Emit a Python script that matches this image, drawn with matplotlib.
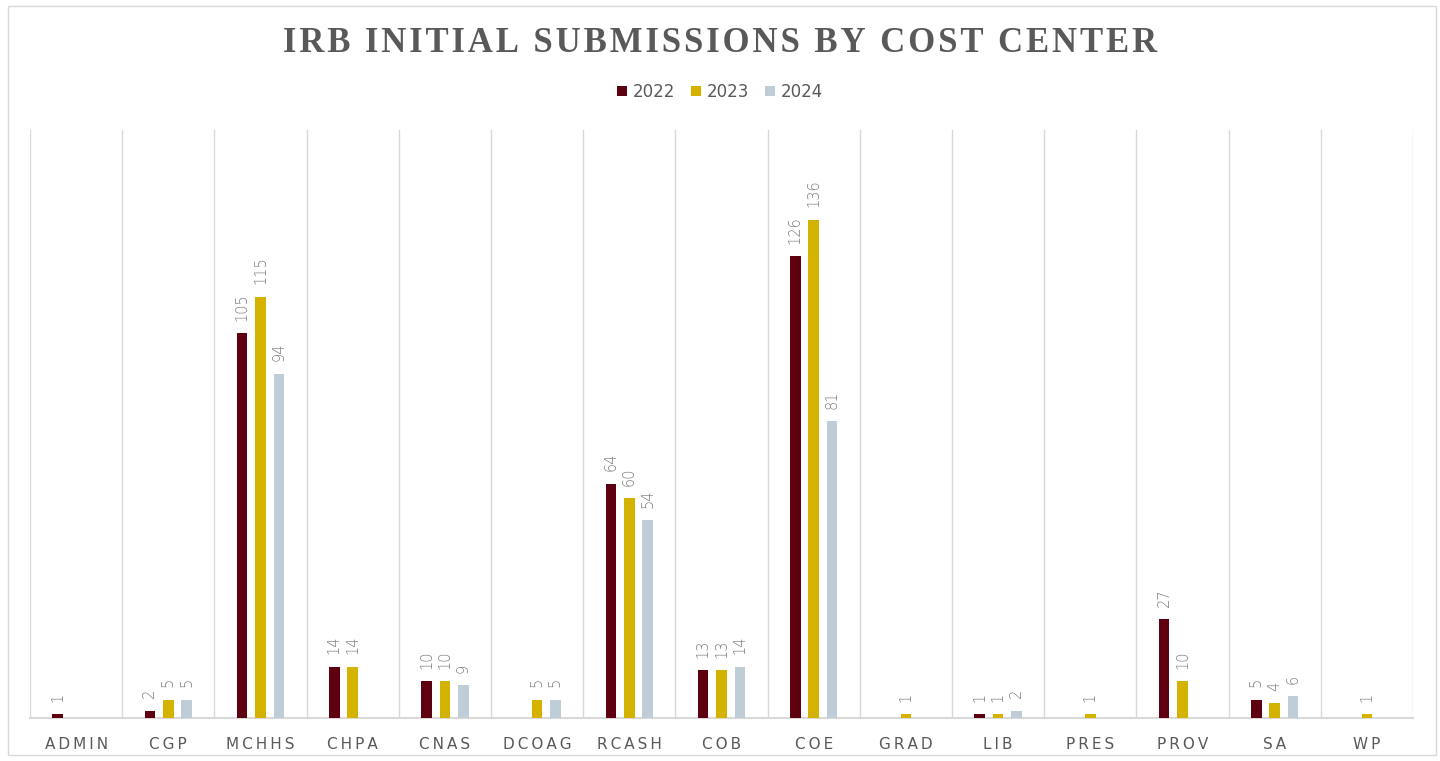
import matplotlib.pyplot as plt
import numpy as np
from matplotlib.patches import Rectangle

centers = ['ADMIN', 'CGP', 'MCHHS', 'CHPA', 'CNAS', 'DCOAG', 'RCASH', 'COB',
           'COE', 'GRAD', 'LIB', 'PRES', 'PROV', 'SA', 'WP']
years = ['2022', '2023', '2024']
# None = no submissions reported (no bar, no label)
v2022 = [1, 2, 105, 14, 10, None, 64, 13, 126, None, 1, None, 27, 5, None]
v2023 = [None, 5, 115, 14, 10, 5, 60, 13, 136, 1, 1, 1, 10, 4, 1]
v2024 = [None, 5, 94, None, 9, 5, 54, 14, 81, None, 2, None, None, 6, None]
colors = ['#5E0010', '#D4B300', '#BFCDD7']
title = 'IRB INITIAL SUBMISSIONS BY COST CENTER'

fig = plt.figure(figsize=(14.4, 7.61), dpi=100)
ax = fig.add_axes([30 / 1440, 43 / 761, 1383 / 1440, 588 / 761])

# light frame around the whole chart
fig.patches.append(Rectangle((8 / 1440, 6 / 761), 1428 / 1440, 749 / 761,
                             transform=fig.transFigure, fill=False,
                             edgecolor='#D9D9D9', linewidth=1))

x = np.arange(len(centers))
w = 0.115
offsets = [-0.2, 0, 0.2]
for vals, yr, col, off in zip([v2022, v2023, v2024], years, colors, offsets):
    xs = [xi + off for xi, v in zip(x, vals) if v is not None]
    hs = [v for v in vals if v is not None]
    bars = ax.bar(xs, hs, width=w, color=col, label=yr, zorder=3)
    for b, h in zip(bars, hs):
        ax.annotate(str(h), (b.get_x() + b.get_width() / 2, h),
                    xytext=(0, 9), textcoords='offset points', rotation=90,
                    ha='center', va='bottom', fontsize=10.5, color='#7F7F7F',
                    family='DejaVu Sans', fontweight='light')

ax.set_xlim(-0.5, len(centers) - 0.5)
ax.set_ylim(0, 160.5)
ax.set_yticks([])
ax.set_xticks(x)
ax.set_xticklabels(['\u2009'.join(c) for c in centers], fontsize=11,
                   color='#595959', family='DejaVu Sans')
ax.tick_params(axis='x', length=0, pad=14)
for xb in np.arange(-0.5, len(centers), 1):
    ax.axvline(xb, color='#D9D9D9', linewidth=1, zorder=1)
for s in ['top', 'left', 'right']:
    ax.spines[s].set_visible(False)
ax.spines['bottom'].set_color('#D9D9D9')
ax.spines['bottom'].set_linewidth(1.5)

fig.text(0.5, 1 - 43 / 761, '\u200a'.join(title),
         ha='center', va='center', fontsize=25, fontweight='bold',
         color='#595959', family=['Liberation Serif', 'DejaVu Serif'])

ax.legend(loc='center', bbox_to_anchor=(0.5, 1 - 92 / 761),
          bbox_transform=fig.transFigure, ncol=3, frameon=False,
          handlelength=0.6, handleheight=0.6, handletextpad=0.3,
          columnspacing=1.0, prop={'family': 'Liberation Sans Narrow', 'size': 12},
          labelcolor='#595959')

fig.savefig('out.png', dpi=100)
